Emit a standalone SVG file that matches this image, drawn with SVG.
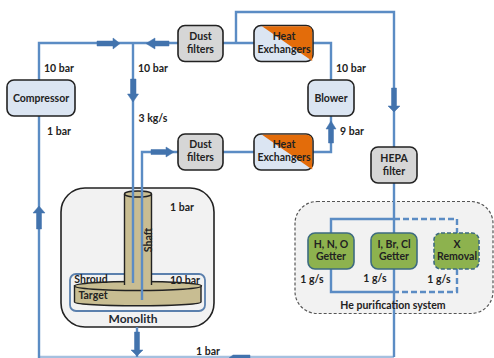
<svg xmlns="http://www.w3.org/2000/svg" width="494" height="358" viewBox="0 0 494 358">
<style>
text{font-family:Lato,"Liberation Sans",sans-serif;font-weight:700;font-size:10.5px;fill:#222;text-anchor:middle}
.n{font-size:12px;fill:#1f2a33}
.box{stroke:#222;stroke-width:1.6}
.blue{fill:#dbe5f2}
.grey{fill:#d6d6d6}
.green{fill:#8db24e;stroke:#3d6b80;stroke-width:1.6}
.pipe{fill:none;stroke:#5b8cc4;stroke-width:2.4}
.dash{stroke-dasharray:6 3}
.arrow{fill:#4273ad;stroke:#4273ad;stroke-width:.5}
.tan{fill:#c8bd92;stroke:#222;stroke-width:1.4}
</style>
<rect x="0" y="0" width="494" height="358" fill="#fff"/>
<g id="monolith"><rect x="61" y="188" width="153" height="139" rx="24" fill="#f2f2f2" stroke="#222" stroke-width="1.6"/><text class="n" x="133" y="323">Monolith</text><text x="182" y="211">1 bar</text></g>
<g id="purification"><rect x="295" y="201.500" width="198" height="112" rx="22" fill="#f2f2f2" stroke="#555" stroke-width="1.2" stroke-dasharray="3 2"/></g>
<g id="shroud"><rect x="70" y="274" width="135" height="37" rx="6" fill="none" stroke="#5b80ad" stroke-width="1.800"/></g>
<g id="target"><path class="tan" d="M74.500 286V302C74.500 307 201 307 201 302V286Z"/><ellipse class="tan" cx="138" cy="286" rx="63.500" ry="4.500"/><rect x="124.500" y="194" width="27" height="93" fill="#c8bd92"/><path d="M124.500 194V285M151.500 194V285" stroke="#222" stroke-width="1.400" fill="none"/><ellipse class="tan" cx="138" cy="194" rx="13.500" ry="3"/></g>
<g id="connectors">
<path class="pipe" d="M39 80V43H178M133 43V283M178 152H142V300"/>
<path class="pipe" d="M39 116V358"/>
<path class="pipe" d="M39 357H394" stroke-opacity=".55"/>
<path class="pipe" d="M223 43H254M236 43V12H394V147M313 43H331V80M223 152H254M313 152H331V116"/>
<path class="pipe" d="M394 183V357"/>
<path class="pipe" d="M394 219H331V233M331 269V292H394"/>
<path class="pipe dash" d="M394 219H457V233M457 269V292H394"/>
<path class="pipe" d="M137 327V357"/>
<g class="arrow">
<path d="M97 41H113V38L120 43.500L113 49V46H97Z"/>
<path d="M169 41H155V38L146 43.500L155 49V46H169Z"/>
<path d="M130.500 79V94H127.500L133 102L138.500 94H136V79Z"/>
<path d="M151 149.500H166V147L174 152L166 157V154.500H151Z"/>
<path d="M328.500 143V129H326L331 121L336 129H333.500V143Z"/>
<path d="M391.500 88V106H388L394 112L400 106H396.500V88Z"/>
<path d="M36.500 229V213H33L39 206L45 213H41.500V229Z"/>
<path d="M134.500 332V350H131L137 356L143 350H139.500V332Z"/>
<path d="M250 358H233L229 358L233 355H250Z"/>
</g>
</g>
<g id="compressor"><rect class="box blue" x="7" y="80" width="68" height="36" rx="7"/><text x="41" y="102">Compressor</text></g>
<g id="dust-top"><rect class="box grey" x="178" y="25.500" width="45" height="36" rx="7"/><text x="200.500" y="40">Dust</text><text x="200.500" y="53">filters</text></g>
<g id="dust-bottom"><rect class="box grey" x="178" y="134" width="45" height="36" rx="7"/><text x="200.500" y="148">Dust</text><text x="200.500" y="161">filters</text></g>
<g id="he-top"><rect class="box blue" x="254" y="25.500" width="59" height="36" rx="7"/><path d="M262 26.300H306C310 26.300 312.200 28 312.200 32V61Z" fill="#e36c0a"/><text x="284" y="40">Heat</text><text x="284" y="53">Exchangers</text></g>
<g id="he-bottom"><rect class="box blue" x="254" y="134" width="59" height="36" rx="7"/><path d="M262 134.800H306C310 134.800 312.200 137 312.200 141V169.500Z" fill="#e36c0a"/><text x="284" y="148">Heat</text><text x="284" y="161">Exchangers</text></g>
<g id="blower"><rect class="box blue" x="308" y="80" width="46" height="36" rx="7"/><text x="331" y="102">Blower</text></g>
<g id="hepa"><rect class="box grey" x="371" y="147" width="46" height="36" rx="7"/><text x="394" y="162">HEPA</text><text x="394" y="175">filter</text></g>
<g id="getter1"><rect class="green" x="308" y="233" width="46" height="36" rx="7"/><text x="331" y="248">H, N, O</text><text x="331" y="260">Getter</text></g>
<g id="getter2"><rect class="green" x="371" y="233" width="46" height="36" rx="7"/><text x="394" y="248">I, Br, Cl</text><text x="394" y="260">Getter</text></g>
<g id="getter3"><rect class="green" x="434" y="233" width="45" height="36" rx="7" stroke-dasharray="4 2"/><text x="457" y="248">X</text><text x="457" y="260">Removal</text></g>
<g id="labels">
<text x="59" y="72">10 bar</text><text x="153" y="72">10 bar</text><text x="59" y="135">1 bar</text><text x="153" y="122">3 kg/s</text>
<text x="351" y="72">10 bar</text><text x="352" y="135">9 bar</text>
<text x="312" y="283">1 g/s</text><text x="375" y="282">1 g/s</text><text x="439" y="283">1 g/s</text>
<text x="208" y="355">1 bar</text>
<text x="91" y="283">Shroud</text><text x="185" y="284">10 bar</text>
<text x="93" y="299">Target</text><text transform="translate(152 240) rotate(-90)">Shaft</text>
<text x="393" y="309">He purification system</text>
</g>
</svg>
